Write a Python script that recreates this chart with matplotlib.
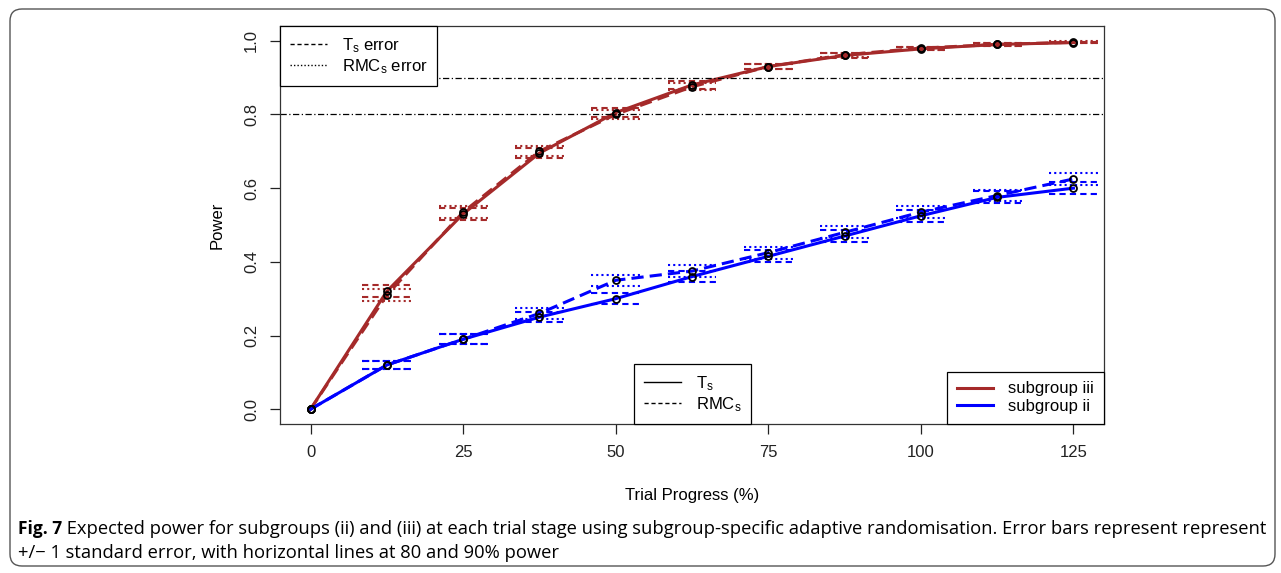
import matplotlib
matplotlib.use("Agg")
import matplotlib.pyplot as plt
from matplotlib.patches import FancyBboxPatch
from matplotlib.lines import Line2D
from matplotlib.transforms import IdentityTransform
from matplotlib import font_manager

plt.rcParams['font.family'] = ['Liberation Sans', 'DejaVu Sans']
plt.rcParams['mathtext.fontset'] = 'custom'
plt.rcParams['mathtext.rm'] = 'Liberation Sans'

# trial progress (%)
progress = [0, 12.5, 25, 37.5, 50, 62.5, 75, 87.5, 100, 112.5, 125]

# subgroup iii (red)
iii_ts = [0, 0.32, 0.53, 0.695, 0.805, 0.88, 0.93, 0.96, 0.978, 0.99, 0.995]
iii_rmc = [0, 0.31, 0.535, 0.70, 0.80, 0.875, 0.93, 0.962, 0.98, 0.99, 0.996]
iii_ts_se = [0, 0.016, 0.016, 0.014, 0.012, 0.010, 0.008, 0.006, 0.004, 0.003, 0.002]
iii_rmc_se = [0, 0.016, 0.016, 0.014, 0.012, 0.010, 0.008, 0.006, 0.004, 0.003, 0.002]

# subgroup ii (blue)
ii_ts = [0, 0.12, 0.19, 0.25, 0.30, 0.36, 0.415, 0.47, 0.525, 0.575, 0.60]
ii_rmc = [0, 0.12, 0.19, 0.26, 0.35, 0.375, 0.425, 0.48, 0.535, 0.58, 0.625]
ii_ts_se = [0, 0.012, 0.013, 0.014, 0.015, 0.016, 0.016, 0.016, 0.016, 0.016, 0.016]
ii_rmc_se = [0, 0.012, 0.013, 0.014, 0.015, 0.016, 0.016, 0.016, 0.016, 0.016, 0.016]

red = '#a52a2a'
blue = '#0000ff'

fig = plt.figure(figsize=(12.81, 5.73), dpi=100)
ax = fig.add_axes([280/1281, 1-424/573, 824/1281, 398/573])

def err_segments(xs, ys, se, color, ls):
    for x, y, s in zip(xs, ys, se):
        if s == 0:
            continue
        for yy in (y - s, y + s):
            ax.plot([x - 4, x + 4], [yy, yy], color=color, ls=ls, lw=1.5)

err_segments(progress, iii_ts, iii_ts_se, red, (0, (3, 2)))
err_segments(progress, iii_rmc, iii_rmc_se, red, (0, (1, 1.5)))
err_segments(progress, ii_ts, ii_ts_se, blue, (0, (3, 2)))
err_segments(progress, ii_rmc, ii_rmc_se, blue, (0, (1, 1.5)))

ax.plot(progress, iii_ts, color=red, lw=2.2)
ax.plot(progress, iii_rmc, color=red, lw=2.2, ls=(0, (4, 2)))
ax.plot(progress, ii_ts, color=blue, lw=2.2)
ax.plot(progress, ii_rmc, color=blue, lw=2.2, ls=(0, (4, 2)))

for ys in (iii_ts, iii_rmc, ii_ts, ii_rmc):
    ax.plot(progress, ys, ls='none', marker='o', ms=5, mfc='none', mec='black', mew=1.3)

ax.axhline(0.8, color='black', lw=0.9, ls=(0, (5, 2, 1, 2)))
ax.axhline(0.9, color='black', lw=0.9, ls=(0, (5, 2, 1, 2)))

ax.set_xlim(-5, 130)
ax.set_ylim(-0.04, 1.04)
ax.set_xticks([0, 25, 50, 75, 100, 125])
ax.set_yticks([0, 0.2, 0.4, 0.6, 0.8, 1.0])
ax.set_yticklabels(['0.0', '0.2', '0.4', '0.6', '0.8', '1.0'], rotation=90, va='center')
ax.tick_params(direction='out', length=7, width=0.9, labelsize=12, pad=8, colors='#222222')
for sp in ax.spines.values():
    sp.set_linewidth(0.9)
    sp.set_color('#333333')
ax.set_xlabel('Trial Progress (%)', fontsize=12, labelpad=20)
ax.set_ylabel('Power', fontsize=12, labelpad=14)

legkw = dict(frameon=True, fancybox=False, edgecolor='black', framealpha=1,
             fontsize=12, borderaxespad=0, handlelength=2.2, handletextpad=0.9,
             labelspacing=0.15, borderpad=0.6)

h1 = [Line2D([], [], color='black', lw=1, ls=(0, (3, 2))),
      Line2D([], [], color='black', lw=1, ls=(0, (1, 1.5)))]
leg1 = ax.legend(h1, [r'$\mathregular{T_s}$ error', r'$\mathregular{RMC_s}$ error'],
                 loc='upper left', **legkw)
leg1.get_frame().set_linewidth(0.9)
ax.add_artist(leg1)

h2 = [Line2D([], [], color='black', lw=1),
      Line2D([], [], color='black', lw=1, ls=(0, (3, 2)))]
leg2 = ax.legend(h2, [r'$\mathregular{T_s}$', r'$\mathregular{RMC_s}$'],
                 loc='lower left', bbox_to_anchor=((634-280)/824, 0), **legkw)
leg2.get_frame().set_linewidth(0.9)
ax.add_artist(leg2)

h3 = [Line2D([], [], color=red, lw=2.2), Line2D([], [], color=blue, lw=2.2)]
leg3 = ax.legend(h3, ['subgroup iii', 'subgroup ii'], loc='lower right', **legkw)
leg3.get_frame().set_linewidth(0.9)

# rounded caption frame
frame = FancyBboxPatch((10, 573-566), 1265, 557, boxstyle='round,pad=0,rounding_size=12',
                       transform=IdentityTransform(), fill=False, ec='#555555', lw=1.0)
fig.patches.append(frame)

names = {f.name for f in font_manager.fontManager.ttflist}
capfont = 'Liberation Sans Narrow' if 'Liberation Sans Narrow' in names else 'Open Sans'
t1 = fig.text(18/1281, 1-534/573, 'Fig. 7', fontsize=12.5, fontweight='bold', family=capfont)
fig.canvas.draw()
bb = t1.get_window_extent()
rest = (' Expected power for subgroups (ii) and (iii) at each trial stage using subgroup-specific '
        'adaptive randomisation. Error bars represent represent')
t2 = fig.text(bb.x1/1281, 1-534/573, rest, fontsize=12.5, family=capfont)
fig.canvas.draw()
w = t2.get_window_extent().x1
scale = (1272 - bb.x1) / (w - bb.x1)
t2.set_fontsize(12.5 * scale)
fig.text(18/1281, 1-558/573, '+/\u2212 1 standard error, with horizontal lines at 80 and 90% power',
         fontsize=12.5 * scale, family=capfont)

fig.savefig('out.png', dpi=100)
